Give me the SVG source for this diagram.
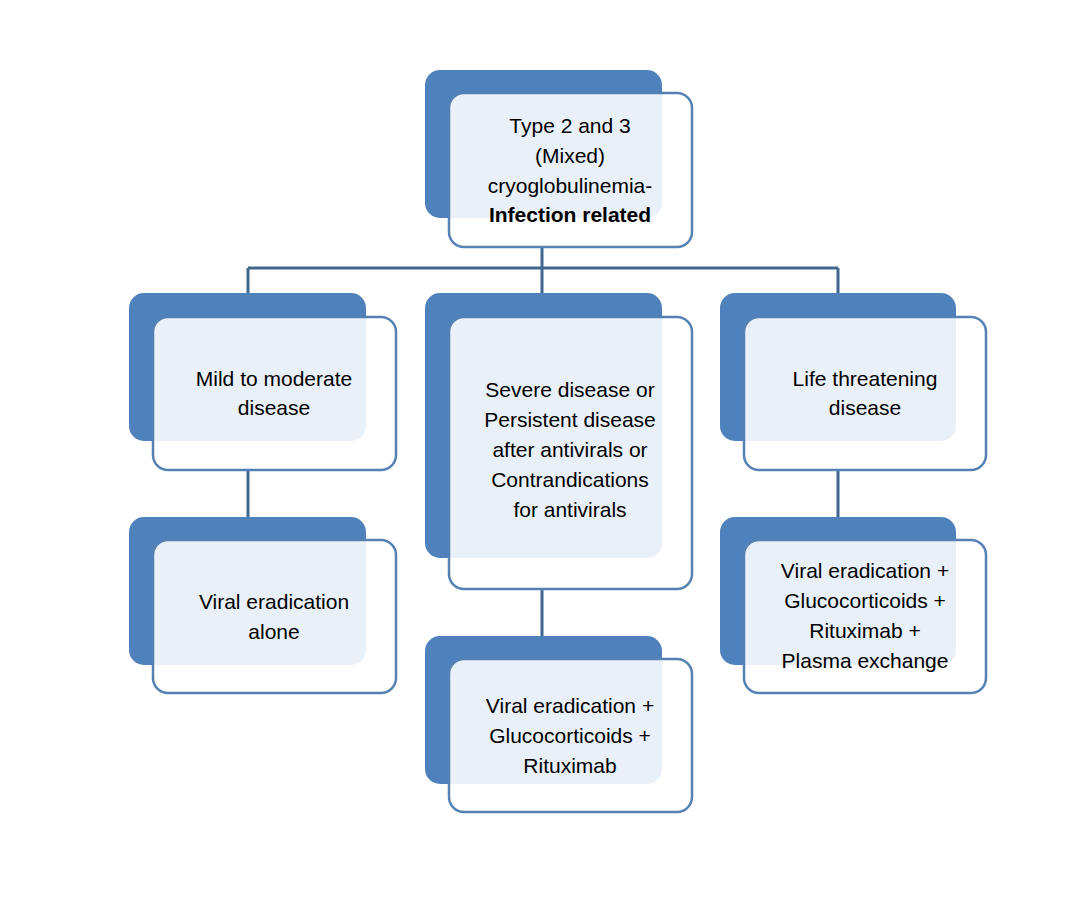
<svg xmlns="http://www.w3.org/2000/svg" width="1079" height="923" viewBox="0 0 1079 923">
<style>
.b{fill:#4f81bd}
.f{fill:#fff;fill-opacity:0.88;stroke:#5581b4;stroke-width:2.5}
.t{font-family:"Liberation Sans",Arial,sans-serif;font-size:21px;fill:#000;text-anchor:middle}
.c{stroke:#41678f;stroke-width:3;fill:none}
</style>
<rect width="1079" height="923" fill="#fff"/>
<g id="connectors">
<path class="c" d="M542 247V293M248 268H838M248 268V293M838 268V293M248 470V517M542 589V636M838 470V517"/>
</g>
<g id="n0"><rect class="b" x="425" y="70" width="237" height="148" rx="15"/><rect class="f" x="449" y="93" width="243" height="154" rx="15"/>
<text class="t" x="570" y="133">Type 2 and 3</text><text class="t" x="570" y="163">(Mixed)</text><text class="t" x="570" y="193">cryoglobulinemia-</text><text class="t" x="570" y="222" font-weight="bold">Infection related</text></g>
<g id="n1"><rect class="b" x="129" y="293" width="237" height="148" rx="15"/><rect class="f" x="153" y="317" width="243" height="153" rx="15"/>
<text class="t" x="274" y="386">Mild to moderate</text><text class="t" x="274" y="415">disease</text></g>
<g id="n2"><rect class="b" x="425" y="293" width="237" height="265" rx="15"/><rect class="f" x="449" y="317" width="243" height="272" rx="15"/>
<text class="t" x="570" y="397">Severe disease or</text><text class="t" x="570" y="427">Persistent disease</text><text class="t" x="570" y="457">after antivirals or</text><text class="t" x="570" y="487">Contrandications</text><text class="t" x="570" y="517">for antivirals</text></g>
<g id="n3"><rect class="b" x="720" y="293" width="236" height="148" rx="15"/><rect class="f" x="744" y="317" width="242" height="153" rx="15"/>
<text class="t" x="865" y="386">Life threatening</text><text class="t" x="865" y="415">disease</text></g>
<g id="n4"><rect class="b" x="129" y="517" width="237" height="148" rx="15"/><rect class="f" x="153" y="540" width="243" height="153" rx="15"/>
<text class="t" x="274" y="609">Viral eradication</text><text class="t" x="274" y="639">alone</text></g>
<g id="n5"><rect class="b" x="425" y="636" width="237" height="148" rx="15"/><rect class="f" x="449" y="659" width="243" height="153" rx="15"/>
<text class="t" x="570" y="713">Viral eradication +</text><text class="t" x="570" y="743">Glucocorticoids +</text><text class="t" x="570" y="773">Rituximab</text></g>
<g id="n6"><rect class="b" x="720" y="517" width="236" height="148" rx="15"/><rect class="f" x="744" y="540" width="242" height="153" rx="15"/>
<text class="t" x="865" y="578">Viral eradication +</text><text class="t" x="865" y="608">Glucocorticoids +</text><text class="t" x="865" y="638">Rituximab +</text><text class="t" x="865" y="668">Plasma exchange</text></g>
</svg>
